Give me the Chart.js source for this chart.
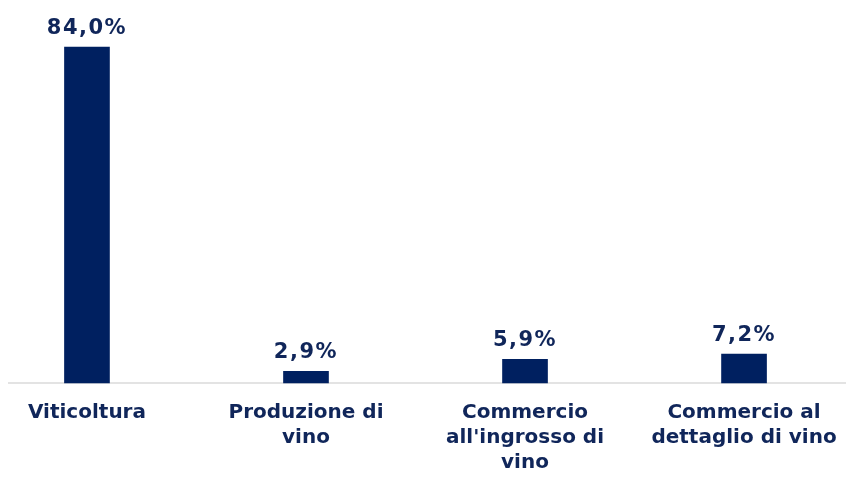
<!DOCTYPE html>
<html>
<head>
<meta charset="utf-8">
<script src="https://cdn.jsdelivr.net/npm/chart.js@4/dist/chart.umd.min.js"></script>
<style>
  html, body { margin: 0; padding: 0; background: #fff; }
  #wrap { width: 847px; height: 477px; }
</style>
</head>
<body>
<div id="wrap"><canvas id="plot"></canvas></div>
<script>
// categorie e valori (%)
let categorie = [
    ['Viticoltura'],
    ['Produzione di', 'vino'],
    ['Commercio', "all'ingrosso di", 'vino'],
    ['Commercio al', 'dettaglio di vino']
];
let valori = [84.0, 2.9, 5.9, 7.2];
let etichette = ['84,0%', '2,9%', '5,9%', '7,2%'];

let blu = '#002060';
let testo = '#10265a';
let font = "'DejaVu Sans', Verdana, sans-serif";

// etichette sopra le barre
let etichetteBarre = {
    id: 'etichetteBarre',
    afterDatasetsDraw(chart) {
        let ctx = chart.ctx;
        let meta = chart.getDatasetMeta(0);
        ctx.save();
        ctx.fillStyle = testo;
        ctx.font = 'bold 21px ' + font;
        ctx.letterSpacing = '1.5px';
        ctx.textAlign = 'center';
        ctx.textBaseline = 'alphabetic';
        meta.data.forEach((bar, i) => {
            ctx.fillText(etichette[i], bar.x, bar.y - 13);
        });
        ctx.restore();
    }
};

let config = {
    type: 'bar',
    data: {
        datasets: [{
            data: valori.map((v, i) => ({ x: i, y: v })),
            backgroundColor: blu,
            barThickness: 45,
            clip: false
        }]
    },
    options: {
        responsive: true,
        maintainAspectRatio: false,
        animation: false,
        layout: { padding: { left: 9, right: 2, top: 23, bottom: 0 } },
        plugins: { legend: { display: false }, tooltip: { enabled: false } },
        scales: {
            x: {
                type: 'linear',
                offset: false,
                min: -0.356,
                max: 3.461,
                afterBuildTicks: s => { s.ticks = categorie.map((c, i) => ({ value: i })); },
                afterFit: s => { s.height = 94; s.paddingLeft = 0; s.paddingRight = 0; },
                grid: { display: false, drawTicks: false },
                border: { display: true, color: '#e3e3e3', width: 2 },
                ticks: {
                    autoSkip: false,
                    maxRotation: 0,
                    padding: 17,
                    color: testo,
                    font: { family: font, size: 20, weight: 'bold', lineHeight: 1.25 },
                    callback: (v) => categorie[v]
                }
            },
            y: {
                display: false,
                min: 0,
                max: 90
            }
        }
    },
    plugins: [etichetteBarre]
};

let chart = new Chart(document.getElementById('plot'), config);
</script>
</body>
</html>
